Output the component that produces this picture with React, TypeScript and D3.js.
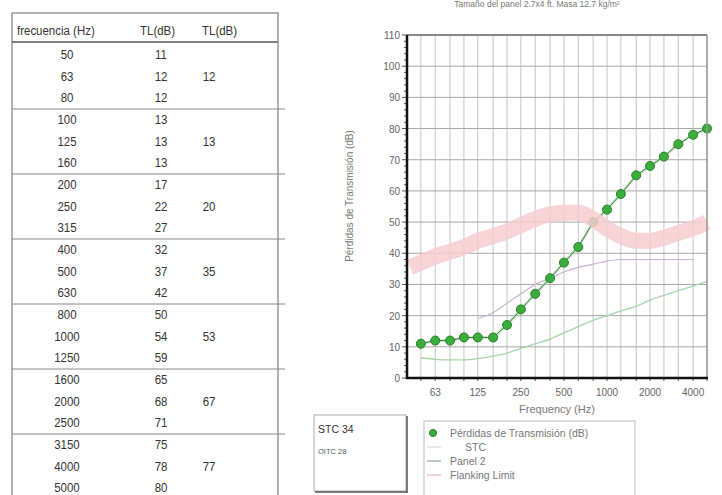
import * as d3 from 'd3'

// 1/3 octave bands and measured TL
const freqs = [50, 63, 80, 100, 125, 160, 200, 250, 315, 400, 500, 630, 800, 1000, 1250, 1600, 2000, 2500, 3150, 4000, 5000]
const tl = [11, 12, 12, 13, 13, 13, 17, 22, 27, 32, 37, 42, 50, 54, 59, 65, 68, 71, 75, 78, 80]
const octaveTl = [12, 13, 20, 35, 53, 67, 77]

// other curves
const panel2 = [6.5, 6, 5.8, 5.8, 6.2, 7, 8, 9.5, 11, 12.5, 14.5, 16.5, 18.5, 20, 21.5, 23, 25, 26.5, 28, 29.5, 31]
const stcFreqs = [125, 160, 200, 250, 315, 400, 500, 630, 800, 1000, 1250, 1600, 2000, 2500, 3150, 4000]
const stcContour = [19, 21, 24, 27, 30, 32, 34, 35.5, 36.5, 37.5, 38, 38, 38, 38, 38, 38]
const flankFreqs = [42, 50, 63, 80, 100, 125, 160, 200, 250, 315, 400, 500, 630, 800, 1000, 1250, 1600, 2000, 2500, 3150, 4000, 5000]
const flanking = [35.5, 37, 39, 40.5, 42, 44, 45.5, 47, 49, 51, 52.5, 53, 53, 51, 48, 45.5, 44, 44, 45, 46.5, 48, 50]

const xTicks = [63, 125, 250, 500, 1000, 2000, 4000]
const yTicks = [0, 10, 20, 30, 40, 50, 60, 70, 80, 90, 100, 110]
const legendItems = ['Pérdidas de Transmisión (dB)', 'STC', 'Panel 2', 'Flanking Limit']

const stc = 34
const oitc = 28

const tableFont = '"Liberation Sans", Arial, sans-serif'
const chartFont = '"Liberation Sans", Arial, sans-serif'

// narrow-looking text for the table (squeezed horizontally)
function NText({ x, y, anchor = 'start', children }) {
  return (
    <text transform={`translate(${x},${y}) scale(0.85,1)`} textAnchor={anchor}>{children}</text>
  )
}

function Table() {
  const left = 12, right = 278
  const groupTop = g => 44 + 65 * g
  return (
    <g fontFamily={tableFont} fontSize={13.5} fill="#333">
      <rect x={left} y={13} width={right - left} height={500} fill="none" stroke="#999" strokeWidth={1.5} />
      <NText x={17} y={35}>frecuencia (Hz)</NText>
      <NText x={140} y={35}>TL(dB)</NText>
      <NText x={202} y={35}>TL(dB)</NText>
      <line x1={left} x2={right} y1={42} y2={42} stroke="#555" strokeWidth={1.5} />
      {octaveTl.map((v, g) => (
        <g key={g}>
          {g > 0 && <line x1={left} x2={285} y1={groupTop(g)} y2={groupTop(g)} stroke="#888" strokeWidth={1} />}
          <NText x={209} y={groupTop(g) + 36.5} anchor="middle">{v}</NText>
        </g>
      ))}
      {freqs.map((f, i) => {
        const g = Math.floor(i / 3)
        const cy = groupTop(g) + 10.5 + (i % 3) * 21.6
        return (
          <g key={f}>
            <NText x={67} y={cy + 4.5} anchor="middle">{f}</NText>
            <NText x={161} y={cy + 4.5} anchor="middle">{tl[i]}</NText>
          </g>
        )
      })}
    </g>
  )
}

function Chart() {
  const x = d3.scaleLog().domain([40, 5000]).range([407, 707])
  const y = d3.scaleLinear().domain([0, 110]).range([378, 35])
  const [x0, x1] = x.range()
  const [y0, y1] = y.range()

  const line = d3.line().x(d => x(d[0])).y(d => y(d[1]))
  const smooth = d3.line().x(d => x(d[0])).y(d => y(d[1])).curve(d3.curveMonotoneX)

  const tlPts = freqs.map((f, i) => [f, tl[i]])
  const panelPts = freqs.map((f, i) => [f, panel2[i]])
  const stcPts = stcFreqs.map((f, i) => [f, stcContour[i]])
  const flankPts = flankFreqs.map((f, i) => [f, flanking[i]])
  const minorY = d3.range(0, 111, 2)

  return (
    <g fontFamily={chartFont}>
      <text x={537} y={7} textAnchor="middle" fontSize={8.5} fill="#777">Tamaño del panel 2.7x4 ft. Masa 12.7 kg/m²</text>

      {/* grid */}
      {freqs.map(f => (
        <line key={f} x1={x(f)} x2={x(f)} y1={y0} y2={y1} stroke="#c4c4c4" strokeWidth={1} />
      ))}
      {yTicks.map(t => (
        <line key={t} x1={x0} x2={x1} y1={y(t)} y2={y(t)} stroke="#a8a8a8" strokeWidth={1} />
      ))}

      {/* curves */}
      <path d={smooth(panelPts)} fill="none" stroke="#a6d6a6" strokeWidth={1.3} />
      <path d={smooth(stcPts)} fill="none" stroke="#c7b2d3" strokeWidth={1.2} />
      <path d={line(tlPts)} fill="none" stroke="#9ee69e" strokeWidth={3} opacity={0.6} />
      <path d={line(tlPts)} fill="none" stroke="#4f6b4f" strokeWidth={1} />
      {tlPts.map(d => (
        <circle key={d[0]} cx={x(d[0])} cy={y(d[1])} r={4.5} fill="#3aae3a" stroke="#2b7d2b" strokeWidth={1} />
      ))}
      <path d={smooth(flankPts)} fill="none" stroke="#f8cdcf" strokeWidth={16} opacity={0.85} />

      {/* frame + axes */}
      <line x1={x0} x2={x1} y1={y1} y2={y1} stroke="#888" strokeWidth={2} />
      <line x1={x1} x2={x1} y1={y1} y2={y0} stroke="#999" strokeWidth={1.5} />
      {minorY.map(t => (
        <line key={t} x1={x0 - (t % 10 === 0 ? 5 : 3)} x2={x0} y1={y(t)} y2={y(t)} stroke="#555" strokeWidth={1} />
      ))}
      {freqs.map(f => (
        <line key={f} x1={x(f)} x2={x(f)} y1={y0} y2={y0 + 3} stroke="#555" strokeWidth={1} />
      ))}
      <line x1={x0} x2={x0} y1={y1} y2={y0 + 1} stroke="#111" strokeWidth={2.5} />
      <line x1={x0 - 1} x2={x1 + 1} y1={y0} y2={y0} stroke="#111" strokeWidth={2.5} />

      {yTicks.map(t => (
        <text key={t} x={400} y={y(t) + 4} textAnchor="end" fontSize={10} fill="#666">{t}</text>
      ))}
      {xTicks.map(t => (
        <text key={t} x={x(t)} y={396} textAnchor="middle" fontSize={10} fill="#666">{t}</text>
      ))}
      <text x={557} y={413} textAnchor="middle" fontSize={11} fill="#777">Frequency (Hz)</text>
      <text transform="translate(353,196) rotate(-90)" textAnchor="middle" fontSize={10} fill="#777">Pérdidas de Transmisión (dB)</text>

      {/* STC box */}
      <rect x={314} y={415} width={92} height={76} fill="#fff" stroke="#aaa" strokeWidth={1} />
      <line x1={407} x2={407} y1={416} y2={493} stroke="#555" strokeWidth={1.5} />
      <line x1={315} x2={407} y1={492} y2={492} stroke="#555" strokeWidth={1.5} />
      <text x={318} y={433} fontSize={10.5} fill="#333">STC {stc}</text>
      <text x={318} y={454} fontSize={7.5} fill="#555">OITC  {oitc}</text>

      {/* legend */}
      <rect x={424} y={421} width={211} height={80} fill="#fff" stroke="#bbb" strokeWidth={1} />
      {legendItems.map((name, i) => {
        const ly = 433 + i * 14
        return (
          <g key={name}>
            {i === 0 && <circle cx={433} cy={ly} r={3.5} fill="#3aae3a" stroke="#2b7d2b" />}
            {i === 1 && <line x1={427} x2={441} y1={ly} y2={ly} stroke="#d4d4d4" />}
            {i === 2 && <line x1={427} x2={441} y1={ly} y2={ly} stroke="#a9b9b0" strokeWidth={1.5} />}
            {i === 3 && <line x1={427} x2={441} y1={ly} y2={ly} stroke="#f2c4c6" strokeWidth={1.5} />}
            <text x={i === 1 ? 465 : 450} y={ly + 4} fontSize={10.5} fill="#777">{name}</text>
          </g>
        )
      })}
    </g>
  )
}

export default function App() {
  return (
    <svg width={722} height={495} style={{ position: 'absolute', left: 0, top: 0, background: '#fff' }}>
      <rect width={722} height={495} fill="#fff" />
      <Table />
      <Chart />
    </svg>
  )
}
